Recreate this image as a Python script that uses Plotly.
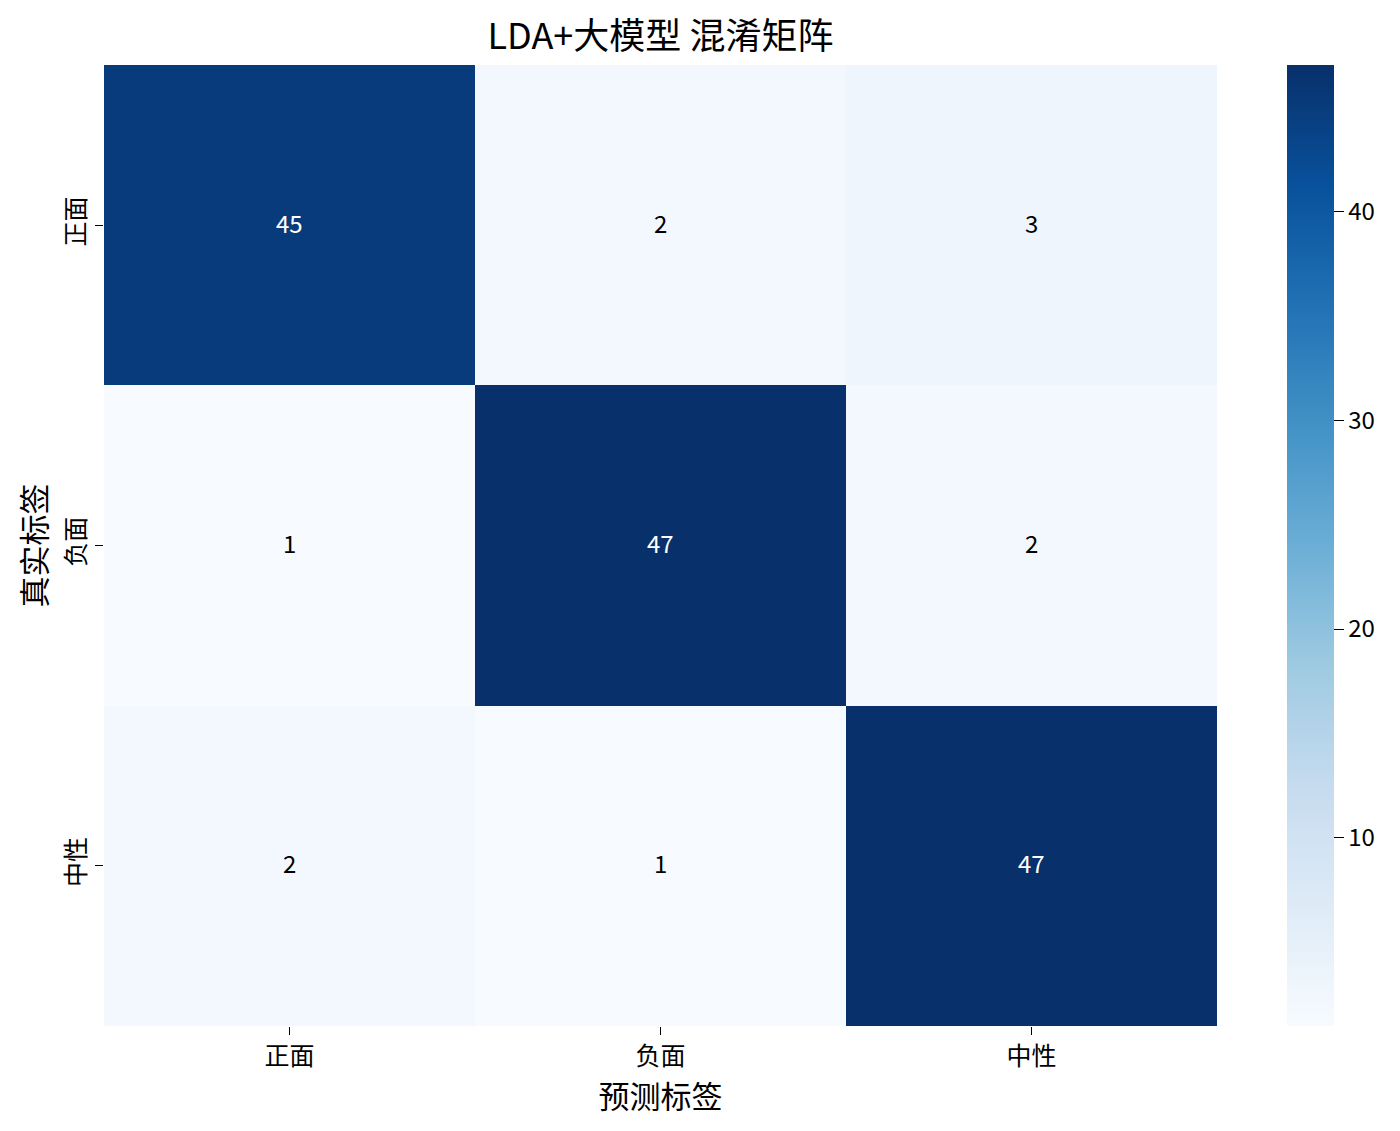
import plotly.graph_objects as go

# confusion matrix data (rows = true label, cols = predicted label)
labels = ["正面", "负面", "中性"]
row_pos = [45, 2, 3]
row_neg = [1, 47, 2]
row_neu = [2, 1, 47]
matrix = [row_pos, row_neg, row_neu]
cbar_ticks = [10, 20, 30, 40]

FONT = "Noto Sans CJK SC"
W, H = 1400, 1131
L, R, T, B = 96, 191, 57, 113   # page body adds 8px offset
PW = W - L - R

blues = [
    [0.0, "#f7fbff"], [0.125, "#deebf7"], [0.25, "#c6dbef"], [0.375, "#9ecae1"],
    [0.5, "#6baed6"], [0.625, "#4292c6"], [0.75, "#2171b5"], [0.875, "#08519c"],
    [1.0, "#08306b"],
]

zmin = min(min(r) for r in matrix)
zmax = max(max(r) for r in matrix)

fig = go.Figure()
fig.add_trace(go.Heatmap(
    z=matrix, x=labels, y=labels,
    colorscale=blues, zmin=zmin, zmax=zmax,
    hovertemplate="真实: %{y}<br>预测: %{x}<br>数量: %{z}<extra></extra>",
    colorbar=dict(
        x=(1183) / PW, xanchor="left", xpad=0, ypad=0,
        y=0.5, yanchor="middle", len=1, lenmode="fraction",
        thickness=47, outlinewidth=0,
        tickvals=cbar_ticks, ticks="outside", ticklen=10, tickcolor="black",
        tickfont=dict(family=FONT, size=24, color="black"),
    ),
))

# cell annotations: white on dark cells, black on light ones
mid = (zmin + zmax) / 2
for i, row in enumerate(matrix):
    for j, v in enumerate(row):
        fig.add_annotation(
            x=labels[j], y=labels[i], text=str(v), showarrow=False, yshift=3,
            font=dict(family=FONT, size=24, color="white" if v > mid else "black"),
        )

fig.update_xaxes(
    showgrid=False, zeroline=False, showline=False,
    ticks="outside", ticklen=8, tickcolor="black",
    tickfont=dict(family=FONT, size=25, color="black"),
    title=dict(text="预测标签", font=dict(family=FONT, size=31, color="black"), standoff=8),
)
fig.update_yaxes(
    autorange="reversed",
    showgrid=False, zeroline=False, showline=False,
    ticks="outside", ticklen=8, tickcolor="black", tickangle=-90,
    tickfont=dict(family=FONT, size=25, color="black"),
    title=dict(text="真实标签", font=dict(family=FONT, size=31, color="black"), standoff=0),
)

fig.update_layout(
    width=W, height=H,
    margin=dict(l=L, r=R, t=T, b=B),
    plot_bgcolor="white", paper_bgcolor="white",
    title=dict(text="LDA+大模型 混淆矩阵", x=(L + PW / 2) / W, xanchor="center",
               y=1 - 28 / H, yanchor="middle",
               font=dict(family=FONT, size=36, color="black")),
)

fig.write_html("out.html")
